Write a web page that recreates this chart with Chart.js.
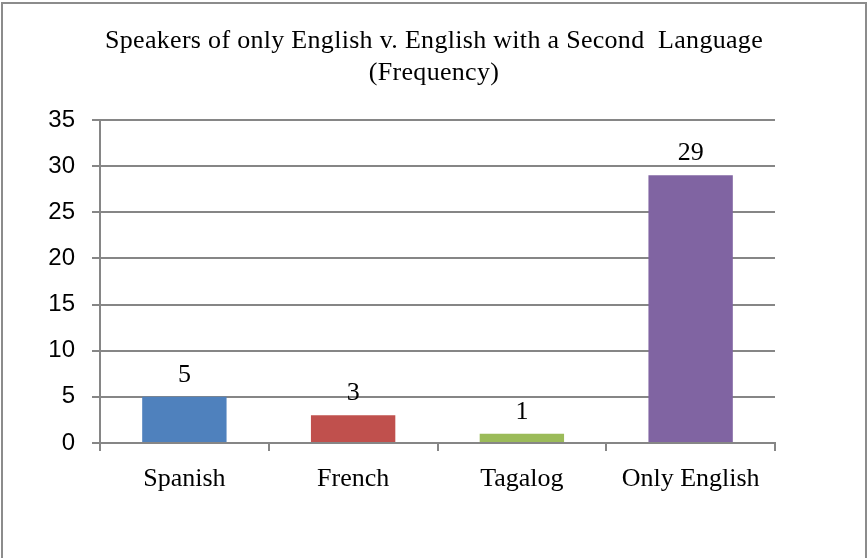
<!DOCTYPE html>
<html>
<head>
<meta charset="utf-8">
<script src="https://cdn.jsdelivr.net/npm/chart.js@4"></script>
<style>
  html, body { margin: 0; padding: 0; background: #fff; overflow: hidden; }
  #wrap { position: relative; width: 868px; height: 558px; }
  #frame {
    position: absolute; left: 1px; top: 2px; width: 866px; height: 620px;
    border: 2px solid #8c8c8c; box-sizing: border-box; pointer-events: none;
  }
  canvas { position: absolute; left: 0; top: 0; }
</style>
</head>
<body>
<div id="wrap">
  <canvas id="chart" width="868" height="558"></canvas>
  <div id="frame"></div>
</div>
<script>
const categories = ["Spanish", "French", "Tagalog", "Only English"];
const frequency = [5, 3, 1, 29];
const barColors = ["#4F81BD", "#C0504D", "#9BBB59", "#8064A2"];
const titleLines = ["Speakers of only English v. English with a Second  Language", "(Frequency)"];

const SERIF = "'Liberation Serif', 'Times New Roman', serif";
const SANS = "'Liberation Sans', Arial, sans-serif";
const GRID = "#868686";

// title centred on the whole canvas, not on the padded box
const pageTitle = {
  id: "pageTitle",
  afterDraw(chart) {
    const ctx = chart.ctx;
    ctx.save();
    ctx.font = "26px " + SERIF;
    ctx.letterSpacing = "0.3px";
    ctx.fillStyle = "#000";
    ctx.textAlign = "center";
    ctx.textBaseline = "middle";
    titleLines.forEach((line, i) => {
      ctx.fillText(line, chart.width / 2, 41 + i * 32);
    });
    ctx.restore();
  },
};

const valueLabels = {
  id: "valueLabels",
  afterDatasetsDraw(chart) {
    const ctx = chart.ctx;
    const meta = chart.getDatasetMeta(0);
    ctx.save();
    ctx.font = "26px " + SERIF;
    ctx.fillStyle = "#000";
    ctx.textAlign = "center";
    ctx.textBaseline = "middle";
    meta.data.forEach((bar, i) => {
      ctx.fillText(String(frequency[i]), bar.x, bar.y - 22);
    });
    ctx.restore();
  },
};

new Chart(document.getElementById("chart"), {
  type: "bar",
  data: {
    labels: categories,
    datasets: [
      {
        data: frequency,
        backgroundColor: barColors,
        borderWidth: 0,
        categoryPercentage: 1,
        barPercentage: 0.5,
      },
    ],
  },
  options: {
    responsive: false,
    animation: false,
    devicePixelRatio: 1,
    layout: { padding: { left: 0, right: 93, top: 120, bottom: 0 } },
    plugins: {
      legend: { display: false },
      tooltip: { enabled: false },
      title: { display: false },
    },
    scales: {
      x: {
        grid: {
          offset: true,
          drawOnChartArea: false,
          drawTicks: true,
          tickLength: 8,
          color: GRID,
          lineWidth: 2,
        },
        border: { display: true, color: GRID, width: 2 },
        ticks: {
          color: "#000",
          font: { family: SERIF, size: 26 },
          padding: 13,
        },
        afterFit(scale) { scale.height = 115; },
      },
      y: {
        min: 0,
        max: 35,
        ticks: {
          stepSize: 5,
          color: "#000",
          font: { family: SANS, size: 24 },
          padding: 17,
        },
        grid: { color: GRID, lineWidth: 2, tickLength: 8 },
        border: { display: true, color: GRID, width: 2 },
        afterFit(scale) { scale.width = 100; },
      },
    },
  },
  plugins: [valueLabels, pageTitle],
});
</script>
</body>
</html>
